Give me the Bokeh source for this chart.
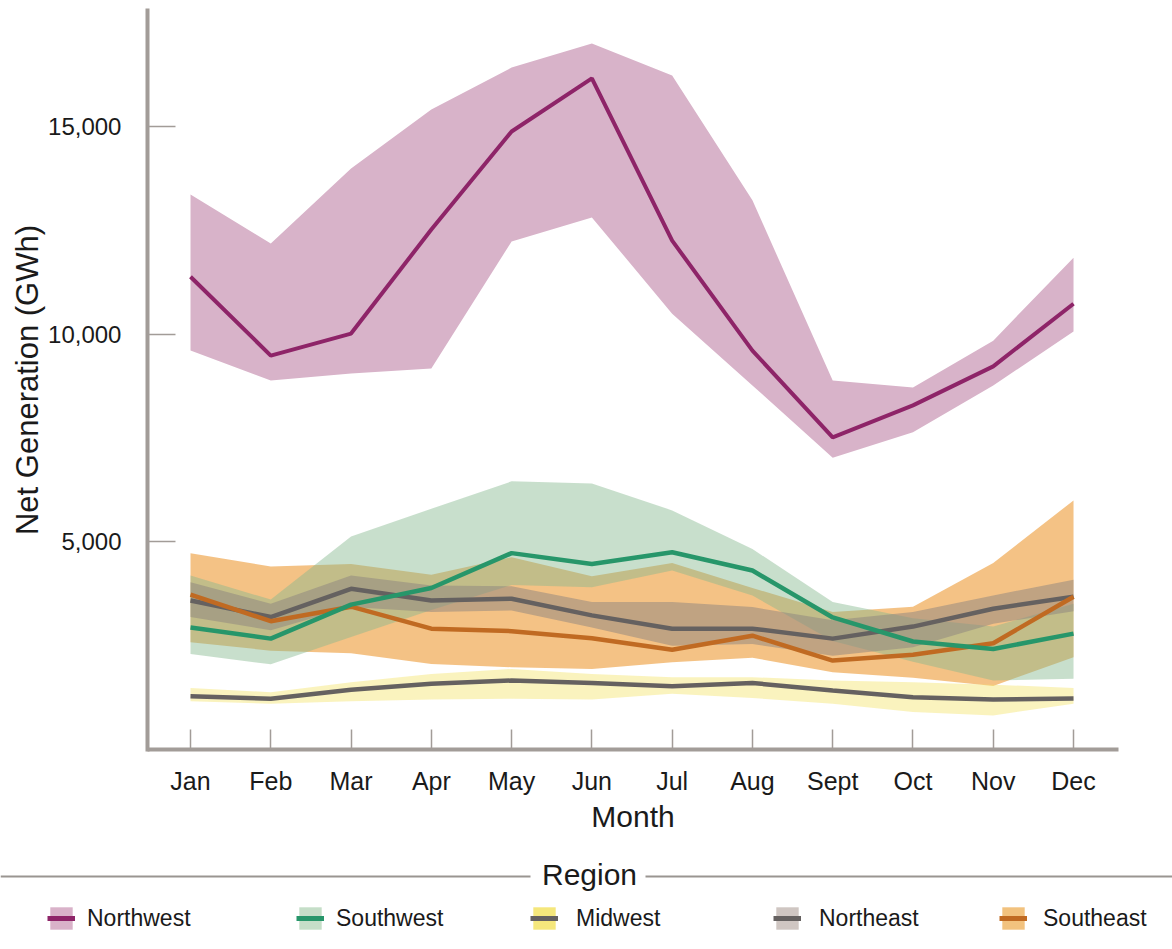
from bokeh.plotting import figure
from bokeh.models import (Range1d, FixedTicker, NumeralTickFormatter, Legend, LegendItem,
                          Label, BoxAnnotation)
from bokeh.embed import file_html
from bokeh.resources import INLINE

# ---------------- data (GWh) ----------------
months = ["Jan", "Feb", "Mar", "Apr", "May", "Jun", "Jul", "Aug", "Sept", "Oct", "Nov", "Dec"]

nw_mid = [11380, 9480, 10010, 12520, 14880, 16160, 12250, 9600, 7510, 8280, 9220, 10730]
nw_hi = [13360, 12180, 13990, 15410, 16420, 17000, 16230, 13220, 8880, 8710, 9840, 11840]
nw_lo = [9600, 8880, 9050, 9170, 12230, 12810, 10490, 8760, 7020, 7630, 8760, 10060]

sw_mid = [2930, 2660, 3480, 3880, 4720, 4460, 4740, 4300, 3170, 2590, 2410, 2780]
sw_hi = [4180, 3600, 5120, 5790, 6450, 6400, 5750, 4820, 3540, 3150, 2950, 3500]
sw_lo = [2290, 2040, 2700, 3350, 3950, 3900, 4300, 3700, 2600, 2100, 1650, 1690]

mw_mid = [1270, 1210, 1430, 1570, 1650, 1590, 1510, 1590, 1410, 1250, 1190, 1220]
mw_hi = [1470, 1370, 1610, 1810, 1930, 1810, 1730, 1730, 1650, 1610, 1550, 1470]
mw_lo = [1150, 1090, 1150, 1190, 1210, 1190, 1330, 1230, 1090, 890, 810, 1090]

ne_mid = [3580, 3180, 3860, 3580, 3620, 3220, 2900, 2900, 2660, 2950, 3380, 3670]
ne_hi = [4020, 3500, 4180, 3940, 3920, 3540, 3540, 3420, 3100, 3300, 3700, 4080]
ne_lo = [3180, 2860, 3420, 3300, 3340, 2930, 2490, 2530, 2250, 2450, 3020, 3320]

se_mid = [3720, 3080, 3430, 2900, 2840, 2670, 2390, 2730, 2130, 2270, 2550, 3670]
se_hi = [4720, 4400, 4460, 4200, 4620, 4160, 4480, 3880, 3300, 3430, 4480, 5990]
se_lo = [2570, 2370, 2310, 2050, 1970, 1930, 2090, 2200, 1850, 1720, 1520, 2210]

regions = ["Northwest", "Southwest", "Midwest", "Northeast", "Southeast"]
y_ticks = [5000, 10000, 15000]

x = list(range(len(months)))

TXT = "#1a1a1a"
AX = "#a29c98"

W, H = 1172, 949
# The frame fills the whole canvas; the axes are pinned inside it.
x_lo, x_hi = -2.367, 12.233
y_lo, y_hi = -4831, 18036
x_axis_bounds = (-0.536, 11.561)
y_axis_bounds = (-50, 17843)

p = figure(width=W, height=H, x_range=Range1d(x_lo, x_hi), y_range=Range1d(y_lo, y_hi),
           output_backend="svg", toolbar_location=None, min_border=0)
p.outline_line_color = None
p.xgrid.visible = False
p.ygrid.visible = False
p.background_fill_color = "white"
p.border_fill_color = "white"

p.varea(x=x, y1=nw_lo, y2=nw_hi, fill_color="#d8b3c9", fill_alpha=1.0)
p.line(x=x, y=nw_mid, line_color="#8e2468", line_width=4)

p.varea(x=x, y1=se_lo, y2=se_hi, fill_color="#ec9a34", fill_alpha=0.6)
p.varea(x=x, y1=sw_lo, y2=sw_hi, fill_color="#86b98e", fill_alpha=0.45)
p.varea(x=x, y1=ne_lo, y2=ne_hi, fill_color="#8c8480", fill_alpha=0.5)
p.varea(x=x, y1=mw_lo, y2=mw_hi, fill_color="#f4e46e", fill_alpha=0.45)

p.line(x=x, y=mw_mid, line_color="#656160", line_width=4.5)
p.line(x=x, y=ne_mid, line_color="#656160", line_width=4.5)
p.line(x=x, y=se_mid, line_color="#c06a22", line_width=4.5)
p.line(x=x, y=sw_mid, line_color="#27966a", line_width=4.5)

# axes
xa = p.xaxis[0]
xa.fixed_location = 0
xa.bounds = x_axis_bounds
xa.ticker = FixedTicker(ticks=x)
xa.major_label_overrides = {i: m for i, m in enumerate(months)}
xa.minor_tick_line_color = None
xa.major_tick_in = 20
xa.major_tick_out = 0
xa.major_tick_line_color = AX
xa.major_tick_line_width = 1.5
xa.axis_line_color = AX
xa.axis_line_width = 4
xa.major_label_text_font = "Liberation Sans"
xa.major_label_text_font_size = "25px"
xa.major_label_text_color = TXT
xa.major_label_standoff = 18
xa.axis_label = "Month"
xa.axis_label_text_font = "Liberation Sans"
xa.axis_label_text_font_size = "30px"
xa.axis_label_text_font_style = "normal"
xa.axis_label_text_color = TXT
xa.axis_label_standoff = 1

ya = p.yaxis[0]
ya.fixed_location = x_axis_bounds[0]
ya.bounds = y_axis_bounds
ya.ticker = FixedTicker(ticks=y_ticks)
ya.formatter = NumeralTickFormatter(format="0,0")
ya.minor_tick_line_color = None
ya.major_tick_in = 28
ya.major_tick_out = 0
ya.major_tick_line_color = AX
ya.major_tick_line_width = 1.5
ya.axis_line_color = AX
ya.axis_line_width = 4
ya.major_label_text_font = "Liberation Sans"
ya.major_label_text_font_size = "24px"
ya.major_label_text_color = TXT
ya.major_label_standoff = 26
ya.axis_label = "Net Generation (GWh)"
ya.axis_label_text_font = "Liberation Sans"
ya.axis_label_text_font_size = "31px"
ya.axis_label_text_font_style = "normal"
ya.axis_label_text_color = TXT
ya.axis_label_standoff = 0

# ---------------- legend (screen offsets from the canvas bottom-left) ----------------
for lft, rgt in [(0, 530), (645, 1172)]:
    p.add_layout(BoxAnnotation(left=lft, right=rgt, bottom=72, top=74,
                               left_units="screen", right_units="screen",
                               bottom_units="screen", top_units="screen",
                               fill_color="#9a9591", fill_alpha=1.0, line_color=None))
p.add_layout(Label(x=589, y=75, x_units="screen", y_units="screen", text="Region",
                   text_font="Liberation Sans", text_font_size="30px", text_color=TXT,
                   text_align="center", text_baseline="middle"))

swatch = {
    "Northwest": ("#d9b2c9", "#8e2468"),
    "Southwest": ("#c5dec8", "#27966a"),
    "Midwest": ("#f5e77c", "#656160"),
    "Northeast": ("#cfc6c2", "#656160"),
    "Southeast": ("#f2c27e", "#c06a22"),
}
item_x = {"Northwest": 47, "Southwest": 296, "Midwest": 530, "Northeast": 773, "Southeast": 999}
item_gap = {"Northwest": 12, "Southwest": 12, "Midwest": 18, "Northeast": 18, "Southeast": 16}

for name in regions:
    fc, lc = swatch[name]
    # key-only renderers placed outside the visible x range
    rb = p.varea(x=[-9, -8], y1=[0, 0], y2=[1, 1], fill_color=fc, fill_alpha=1.0)
    rl = p.line(x=[-9, -8], y=[0, 0], line_color=lc, line_width=5)
    leg = Legend(items=[LegendItem(label=name, renderers=[rb, rl])],
                 location=(item_x[name], 17), orientation="horizontal",
                 glyph_width=28, glyph_height=28, label_standoff=item_gap[name],
                 padding=0, margin=0, border_line_color=None, background_fill_alpha=0,
                 label_text_font="Liberation Sans", label_text_font_size="23px",
                 label_text_color=TXT)
    p.add_layout(leg)

open("out.html", "w").write(file_html(p, INLINE))
